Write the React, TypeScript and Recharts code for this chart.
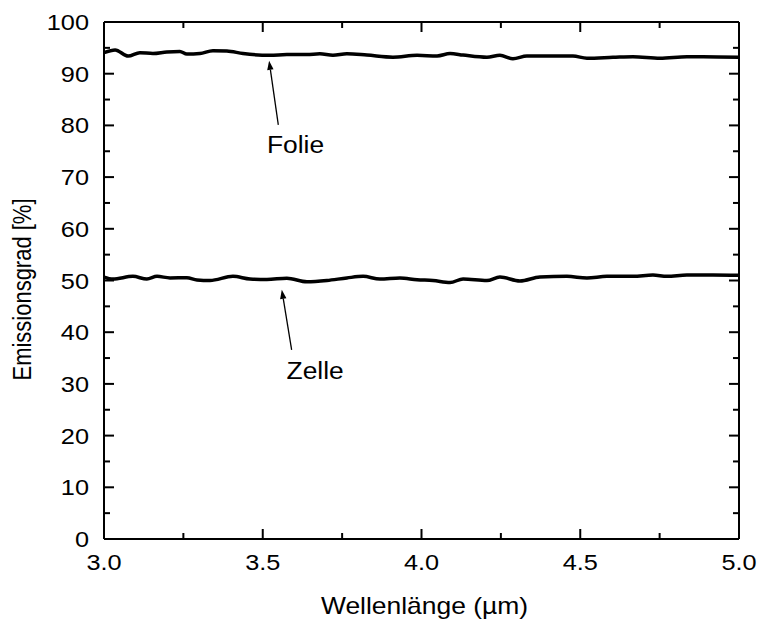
import React from "react";
import { LineChart, Line, XAxis, YAxis, ReferenceLine, ReferenceDot } from "recharts";

const folieX = [3.0, 3.035, 3.076, 3.113, 3.154, 3.198, 3.239, 3.261, 3.302, 3.343, 3.387, 3.438, 3.523, 3.576, 3.639, 3.68, 3.721, 3.765, 3.828, 3.91, 3.986, 4.049, 4.09, 4.131, 4.206, 4.247, 4.288, 4.332, 4.395, 4.477, 4.521, 4.603, 4.666, 4.751, 4.836, 4.887, 5.0];
const folieY = [94.07, 94.6, 93.4, 94.07, 93.9, 94.2, 94.3, 93.8, 93.9, 94.45, 94.4, 93.9, 93.55, 93.7, 93.7, 93.85, 93.55, 93.85, 93.6, 93.2, 93.55, 93.43, 93.9, 93.6, 93.17, 93.55, 92.9, 93.43, 93.4, 93.4, 93.0, 93.17, 93.3, 93.0, 93.3, 93.3, 93.2];

const zelleX = [3.0, 3.028, 3.091, 3.135, 3.167, 3.208, 3.261, 3.293, 3.334, 3.406, 3.46, 3.513, 3.576, 3.639, 3.702, 3.765, 3.816, 3.869, 3.932, 3.986, 4.036, 4.09, 4.131, 4.206, 4.247, 4.31, 4.373, 4.458, 4.521, 4.584, 4.666, 4.729, 4.773, 4.836, 4.918, 5.0];
const zelleY = [50.67, 50.28, 50.8, 50.28, 50.8, 50.5, 50.55, 50.1, 50.0, 50.8, 50.3, 50.2, 50.45, 49.76, 50.0, 50.5, 50.8, 50.28, 50.5, 50.14, 50.0, 49.6, 50.3, 50.0, 50.67, 49.9, 50.67, 50.8, 50.5, 50.8, 50.8, 51.05, 50.8, 51.05, 51.05, 51.0];

const xTicks = [3.0, 3.25, 3.5, 3.75, 4.0, 4.25, 4.5, 4.75, 5.0];
const xMajor = [3.0, 3.5, 4.0, 4.5, 5.0];
const yTicks = [0, 5, 10, 15, 20, 25, 30, 35, 40, 45, 50, 55, 60, 65, 70, 75, 80, 85, 90, 95, 100];

const xTitle = "Wellenlänge (µm)";
const yTitle = "Emissionsgrad [%]";

const annotations = [
  { label: "Folie", tail: { x: 3.549, y: 80.1 }, tip: { x: 3.52, y: 92.5 }, text: { x: 3.513, y: 74.7 } },
  { label: "Zelle", tail: { x: 3.591, y: 36.6 }, tip: { x: 3.56, y: 48.2 }, text: { x: 3.575, y: 31.0 } },
];

const folieData = folieX.map((x, i) => ({ x, y: folieY[i] }));
const zelleData = zelleX.map((x, i) => ({ x, y: zelleY[i] }));

const FONT = "'Liberation Sans', Arial, Helvetica, sans-serif";
const SX = 1.15;

const isMajorX = (v: number) => xMajor.some((m) => Math.abs(m - v) < 1e-6);
const isMajorY = (v: number) => v % 10 === 0;

const BottomTick = (props: any) => {
  const { x, y, payload } = props;
  const major = isMajorX(payload.value);
  const len = major ? 10 : 6;
  return (
    <g>
      <line x1={x} y1={y} x2={x} y2={y - len} stroke="#000" strokeWidth={2} />
      {major && (
        <text transform={`translate(${x},${y + 31}) scale(${SX},1)`} textAnchor="middle" fontFamily={FONT} fontSize={22} fill="#000">
          {payload.value.toFixed(1)}
        </text>
      )}
    </g>
  );
};

const TopTick = (props: any) => {
  const { x, y, payload } = props;
  const len = isMajorX(payload.value) ? 10 : 6;
  return <line x1={x} y1={y} x2={x} y2={y + len} stroke="#000" strokeWidth={2} />;
};

const LeftTick = (props: any) => {
  const { x, y, payload } = props;
  const major = isMajorY(payload.value);
  const len = major ? 10 : 6;
  return (
    <g>
      <line x1={x} y1={y} x2={x + len} y2={y} stroke="#000" strokeWidth={2} />
      {major && (
        <text transform={`translate(${x - 15},${y + 8}) scale(${SX},1)`} textAnchor="end" fontFamily={FONT} fontSize={22} fill="#000">
          {String(payload.value)}
        </text>
      )}
    </g>
  );
};

const RightTick = (props: any) => {
  const { x, y, payload } = props;
  const len = isMajorY(payload.value) ? 10 : 6;
  return <line x1={x} y1={y} x2={x - len} y2={y} stroke="#000" strokeWidth={2} />;
};

const XTitle = (props: any) => {
  const vb = props.viewBox || {};
  const cx = vb.x + vb.width / 2 + 3;
  const by = vb.y + 75;
  return (
    <text transform={`translate(${cx},${by}) scale(${SX},1)`} textAnchor="middle" fontFamily={FONT} fontSize={23} fill="#000">
      {xTitle}
    </text>
  );
};

const YTitle = (props: any) => {
  const vb = props.viewBox || {};
  const cx = vb.x + 31;
  const cy = vb.y + vb.height / 2 + 9;
  return (
    <text transform={`translate(${cx},${cy}) scale(${SX},1) rotate(-90)`} textAnchor="middle" fontFamily={FONT} fontSize={22} fill="#000">
      {yTitle}
    </text>
  );
};

const ArrowShape = (props: any) => {
  const { x1, y1, x2, y2 } = props;
  if ([x1, y1, x2, y2].some((v) => typeof v !== "number" || isNaN(v))) return null;
  const dx = x2 - x1;
  const dy = y2 - y1;
  const L = Math.sqrt(dx * dx + dy * dy) || 1;
  const ux = dx / L;
  const uy = dy / L;
  const hl = 9;
  const hw = 3.2;
  const bx = x2 - ux * hl;
  const by = y2 - uy * hl;
  const px = -uy;
  const py = ux;
  return (
    <g>
      <line x1={x1} y1={y1} x2={bx} y2={by} stroke="#000" strokeWidth={1.3} />
      <polygon points={`${x2},${y2} ${bx + px * hw},${by + py * hw} ${bx - px * hw},${by - py * hw}`} fill="#000" />
    </g>
  );
};

const makeTextShape = (label: string) => (props: any) => {
  const { cx, cy } = props;
  if (typeof cx !== "number" || typeof cy !== "number") return null;
  return (
    <text transform={`translate(${cx},${cy}) scale(1.1,1)`} textAnchor="start" fontFamily={FONT} fontSize={24} fill="#000">
      {label}
    </text>
  );
};

export default function App() {
  return (
    <div style={{ position: "absolute", left: 0, top: 0, background: "#fff" }}>
      <LineChart width={757} height={621} margin={{ top: 21, right: 17, bottom: 22, left: 0 }}>
        <XAxis
          xAxisId={0}
          dataKey="x"
          type="number"
          domain={[3, 5]}
          ticks={xTicks}
          interval={0}
          allowDataOverflow
          height={60}
          tickSize={0}
          tickMargin={0}
          tickLine={false}
          axisLine={{ stroke: "#000", strokeWidth: 2 }}
          tick={<BottomTick />}
          label={{ content: <XTitle /> } as any}
        />
        <XAxis
          xAxisId="top"
          orientation="top"
          dataKey="x"
          type="number"
          domain={[3, 5]}
          ticks={xTicks}
          interval={0}
          allowDataOverflow
          height={1}
          tickSize={0}
          tickMargin={0}
          tickLine={false}
          axisLine={{ stroke: "#000", strokeWidth: 2 }}
          tick={<TopTick />}
        />
        <YAxis
          yAxisId={0}
          type="number"
          domain={[0, 100]}
          ticks={yTicks}
          interval={0}
          allowDataOverflow
          width={104}
          tickSize={0}
          tickMargin={0}
          tickLine={false}
          axisLine={{ stroke: "#000", strokeWidth: 2 }}
          tick={<LeftTick />}
          label={{ content: <YTitle /> } as any}
        />
        <YAxis
          yAxisId="right"
          orientation="right"
          type="number"
          domain={[0, 100]}
          ticks={yTicks}
          interval={0}
          allowDataOverflow
          width={1}
          tickSize={0}
          tickMargin={0}
          tickLine={false}
          axisLine={{ stroke: "#000", strokeWidth: 2 }}
          tick={<RightTick />}
        />
        <Line data={folieData} dataKey="y" xAxisId={0} yAxisId={0} type="monotone" stroke="#000" strokeWidth={3.5} dot={false} isAnimationActive={false} />
        <Line data={zelleData} dataKey="y" xAxisId="top" yAxisId="right" type="monotone" stroke="#000" strokeWidth={3.5} dot={false} isAnimationActive={false} />
        {annotations.map((a) => (
          <ReferenceLine key={a.label + "-arrow"} xAxisId={0} yAxisId={0} segment={[a.tail, a.tip]} shape={<ArrowShape />} ifOverflow="visible" />
        ))}
        {annotations.map((a) => (
          <ReferenceDot key={a.label + "-text"} xAxisId={0} yAxisId={0} x={a.text.x} y={a.text.y} r={0} shape={makeTextShape(a.label)} ifOverflow="visible" />
        ))}
      </LineChart>
    </div>
  );
}
